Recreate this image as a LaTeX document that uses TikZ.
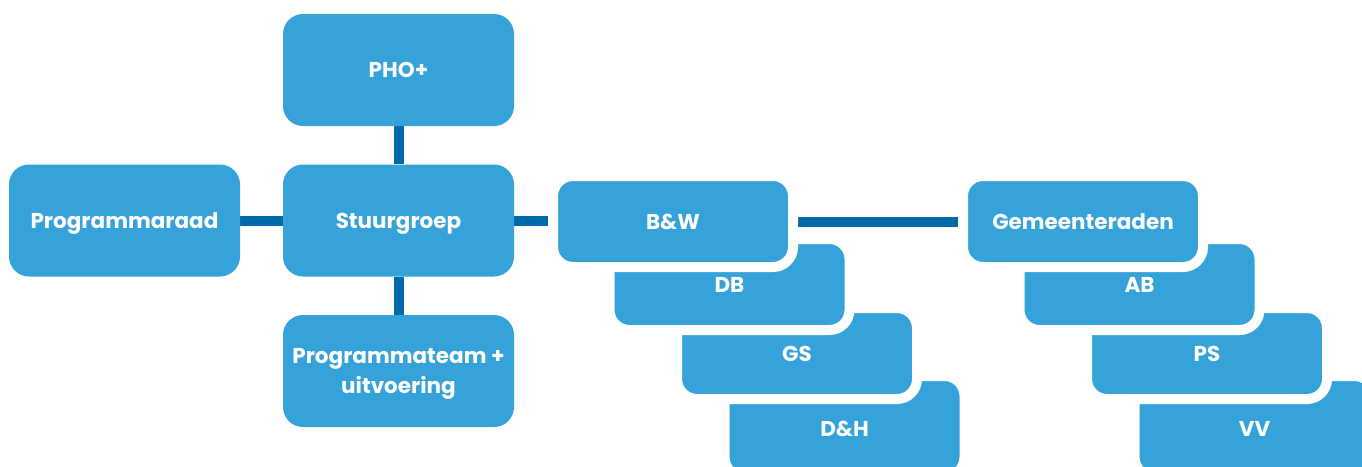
\documentclass[tikz,border=0pt]{standalone}
\usepackage{fontspec}
\setmainfont{Poppins}
\definecolor{boxblue}{RGB}{53,163,218}
\definecolor{linkblue}{RGB}{0,105,170}
\pgfdeclarelayer{bg}
\pgfsetlayers{bg,main}
\tikzset{
  boxtext/.style={text=white, inner sep=0pt, font=\fontsize{21.5}{30}\selectfont\bfseries},
  oneline/.style={text height=15.5pt, text depth=0pt},
  bigbox/.style={boxtext, fill=boxblue, rounded corners=20pt, minimum width=231pt, minimum height=112pt,
    align=center},
  stackbox/.style={boxtext, oneline, fill=boxblue, draw=white, line width=10pt, rounded corners=20pt,
    minimum width=240pt, minimum height=91pt},
  link/.style={draw=linkblue, line width=10pt}
}
\begin{document}
\begin{tikzpicture}[x=1pt,y=-1pt]
\useasboundingbox (0,0) rectangle (1362,466);
\clip (0,0) rectangle (1362,466);
% left group
\node[bigbox, oneline] (raad) at (124.5,220.5) {Programmaraad};
\node[bigbox, oneline] (pho) at (398.5,70) {PHO+};
\node[bigbox, oneline] (stuur) at (398.5,220.5) {Stuurgroep};
\node[bigbox, text depth=0pt] (team) at (398.5,371) {Programmateam +\\uitvoering};
% right stacks (drawn back to front)
\node[stackbox, minimum height=101pt, text height=19pt] (dh) at (844.5,426.5) {D\&H};
\node[stackbox] (gs) at (797,353.5) {GS};
\node[stackbox] (db) at (729.5,284.5) {DB};
\node[stackbox] (bw) at (673,221.5) {B\&W};
\node[stackbox, minimum height=101pt, text height=19pt] (vv) at (1254.5,426.5) {VV};
\node[stackbox] (ps) at (1207,353.5) {PS};
\node[stackbox] (ab) at (1139.5,284.5) {AB};
\node[stackbox] (gem) at (1083,221.5) {Gemeenteraden};
% connectors under the boxes
\begin{pgfonlayer}{bg}
\fill[white] (0,0) rectangle (1362,466);
\draw[link] (raad.east) -- (stuur.west);
\draw[link] (pho.south) -- (stuur.north);
\draw[link] (stuur.south) -- (team.north);
\draw[link] (stuur.east) -- (bw.west |- stuur.east);
\draw[link] (bw.east) -- (gem.west);
\end{pgfonlayer}
\end{tikzpicture}
\end{document}
